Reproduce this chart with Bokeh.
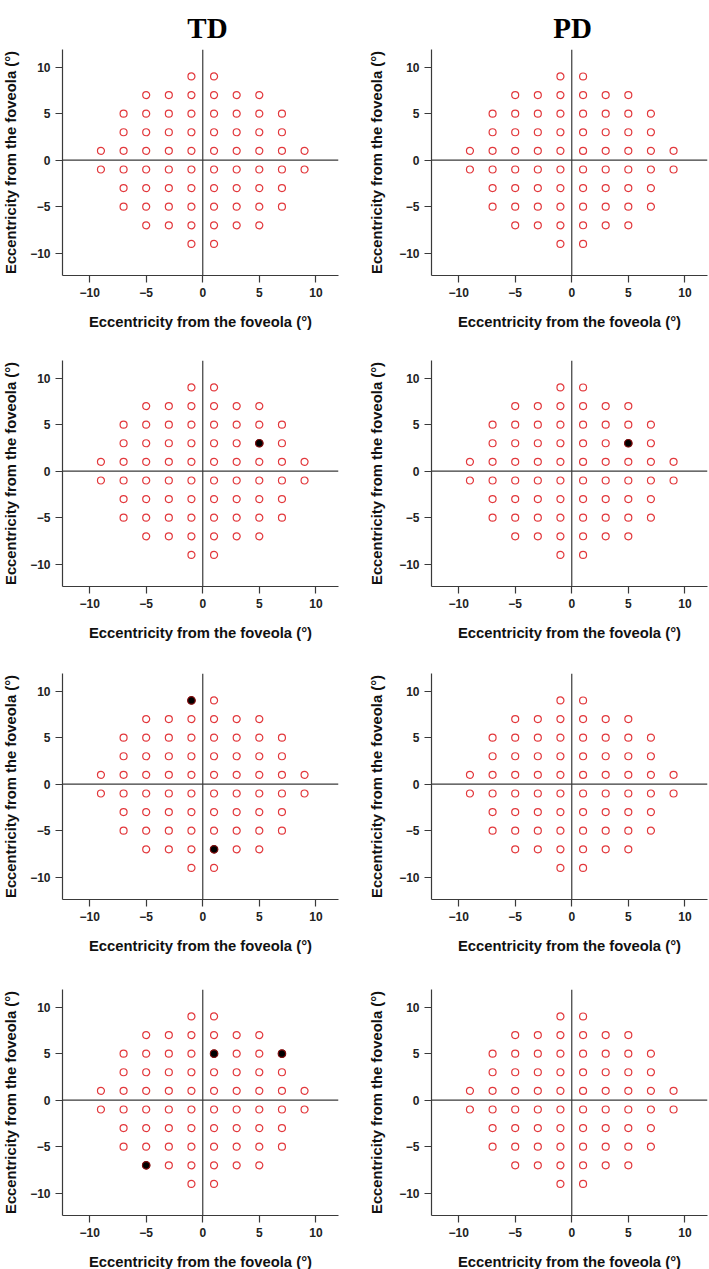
from bokeh.plotting import figure
from bokeh.layouts import column, row
from bokeh.models import Span, FixedTicker, Range1d, ColumnDataSource
from bokeh.core.properties import value
from bokeh.embed import file_html
from bokeh.resources import INLINE

# ---- data ----
group_titles = ["TD", "PD"]
axis_label = "Eccentricity from the foveola (\u00b0)"
tick_values = [-10, -5, 0, 5, 10]
tick_labels = ["\u221210", "\u22125", "0", "5", "10"]

# 10-2 test grid: row eccentricity (y) -> x positions
grid_rows_y = [9, 7, 5, 3, 1, -1, -3, -5, -7, -9]
grid_rows_x = [
    [-1, 1],
    [-5, -3, -1, 1, 3, 5],
    [-7, -5, -3, -1, 1, 3, 5, 7],
    [-7, -5, -3, -1, 1, 3, 5, 7],
    [-9, -7, -5, -3, -1, 1, 3, 5, 7, 9],
    [-9, -7, -5, -3, -1, 1, 3, 5, 7, 9],
    [-7, -5, -3, -1, 1, 3, 5, 7],
    [-7, -5, -3, -1, 1, 3, 5, 7],
    [-5, -3, -1, 1, 3, 5],
    [-1, 1],
]

# highlighted (filled) locations per panel row: [TD, PD]
filled_x = [
    [[], []],
    [[5], [5]],
    [[-1, 1], []],
    [[1, 7, -5], []],
]
filled_y = [
    [[], []],
    [[3], [3]],
    [[9, -7], []],
    [[5, 5, -7], []],
]

grid_x = [x for xs in grid_rows_x for x in xs]
grid_y = [y for y, xs in zip(grid_rows_y, grid_rows_x) for _ in xs]

FONT = "Liberation Sans"
RED = "#e2383c"
AXC = "#3a3a3a"

FRAME_W, FRAME_H = 276, 226
X_LO, X_HI = -12.4, 12
Y_LO, Y_HI = -12.4, 11.9
TITLE_H = 45
TITLE_BASELINE = 27  # px from top of header strip
ROW_TOP = [4, 25, 27, 30]
ROW_BOTTOM = [60, 60, 60, 54]
COL_LEFT = [61, 73]
COL_RIGHT = [20, 3]
YLABEL_STANDOFF = [8, 11]
TITLE_SHIFT = [8, 4]
TOTAL_W = sum(COL_LEFT) + sum(COL_RIGHT) + 2 * FRAME_W


def make_panel(ci, ri):
    p = figure(frame_width=FRAME_W, frame_height=FRAME_H,
               x_range=Range1d(X_LO, X_HI), y_range=Range1d(Y_LO, Y_HI),
               output_backend="svg", toolbar_location=None,
               min_border_left=COL_LEFT[ci], min_border_right=COL_RIGHT[ci],
               min_border_top=ROW_TOP[ri], min_border_bottom=ROW_BOTTOM[ri])
    p.outline_line_color = None
    p.xgrid.visible = False
    p.ygrid.visible = False
    p.background_fill_color = "white"
    p.border_fill_color = "white"
    for ax in (p.xaxis[0], p.yaxis[0]):
        ax.ticker = FixedTicker(ticks=tick_values)
        ax.major_label_overrides = dict(zip(tick_values, tick_labels))
        ax.axis_label = axis_label
        ax.axis_label_text_font = FONT
        ax.axis_label_text_font_style = "bold"
        ax.axis_label_text_font_size = "14.8px"
        ax.axis_label_text_color = "#111111"
        ax.major_label_text_font = FONT
        ax.major_label_text_font_style = "bold"
        ax.major_label_text_font_size = "12px"
        ax.major_label_text_color = "#222222"
        ax.axis_line_color = AXC
        ax.axis_line_width = 1.2
        ax.major_tick_line_color = AXC
        ax.major_tick_line_width = 1.2
        ax.major_tick_in = 0
        ax.major_tick_out = 7
        ax.minor_tick_line_color = None
    p.xaxis[0].major_label_standoff = 5
    p.xaxis[0].axis_label_standoff = 14
    p.yaxis[0].major_label_standoff = 5
    p.yaxis[0].axis_label_standoff = YLABEL_STANDOFF[ci]

    p.add_layout(Span(location=0, dimension="width", line_color=AXC, line_width=1.2))
    p.add_layout(Span(location=0, dimension="height", line_color=AXC, line_width=1.2))

    src = ColumnDataSource(dict(x=grid_x, y=grid_y))
    p.scatter("x", "y", source=src, marker="circle", size=7,
              fill_color=None, line_color=RED, line_width=1.2)
    fx = filled_x[ri][ci]
    fy = filled_y[ri][ci]
    if fx:
        p.scatter(fx, fy, marker="circle", size=7.5,
                  fill_color="black", line_color="#7a1010", line_width=1.2)
    return p


# header strip with the group titles, centred over each column's frame
hdr = figure(width=TOTAL_W, height=TITLE_H, x_range=Range1d(0, TOTAL_W),
             y_range=Range1d(0, TITLE_H), output_backend="svg",
             toolbar_location=None, min_border=0)
hdr.axis.visible = False
hdr.grid.visible = False
hdr.outline_line_color = None
col0_center = COL_LEFT[0] + FRAME_W / 2 + TITLE_SHIFT[0]
col1_center = (COL_LEFT[0] + FRAME_W + COL_RIGHT[0] + COL_LEFT[1]
               + FRAME_W / 2 + TITLE_SHIFT[1])
hdr.text(x=[col0_center, col1_center], y=[TITLE_H - TITLE_BASELINE] * 2,
         text=group_titles, text_align="center", text_baseline="alphabetic",
         text_font=value("Liberation Serif"), text_font_size="29px",
         text_font_style="bold", text_color="black")

rows = [hdr]
for ri in range(4):
    rows.append(row(make_panel(0, ri), make_panel(1, ri)))
layout = column(*rows)

open("out.html", "w").write(file_html(layout, INLINE))
